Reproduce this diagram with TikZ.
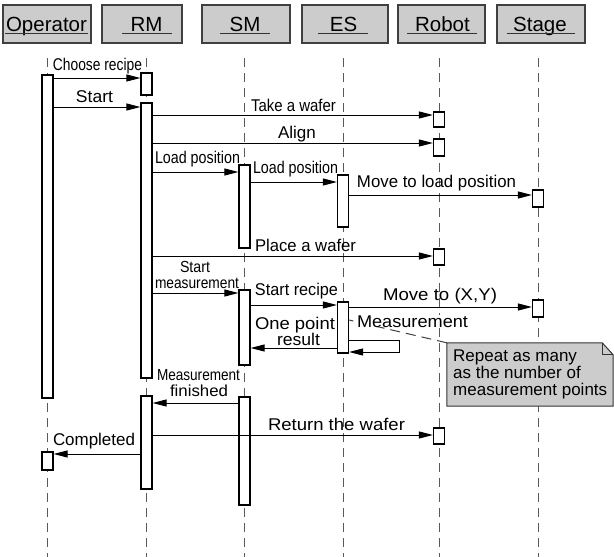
\documentclass[tikz,border=0pt]{standalone}
\usepackage{fontspec}
\setmainfont{Liberation Sans}
\usepackage{graphicx}
\usetikzlibrary{arrows.meta,calc}
\newcommand\fitw[2]{\resizebox{#1pt}{\height}{#2}}
\begin{document}
\begin{tikzpicture}[x=1pt,y=-1pt,
  hdr/.style={draw=black!75, line width=1.3pt, fill=black!20, inner sep=0pt, minimum height=38pt},
  htxt/.style={font=\fontsize{20.5}{22}\selectfont, inner sep=0pt, anchor=base},
  uline/.style={draw=black!80, line width=0.9pt},
  act/.style={draw=black, line width=1.2pt, fill=white, inner sep=0pt, minimum width=11pt},
  life/.style={draw=black!65, line width=1pt, dash pattern=on 9pt off 6pt},
  msg/.style={draw=black, line width=1pt, -{Triangle[length=14pt,width=7pt]}},
  lbl/.style={font=\fontsize{17}{17}\selectfont, inner sep=0pt, anchor=base},
  slbl/.style={font=\fontsize{16}{16}\selectfont, inner sep=0pt, anchor=base},
  notebox/.style={inner sep=0pt, minimum width=166pt, minimum height=63pt},
  notetxt/.style={font=\fontsize{17}{17}\selectfont, inner sep=0pt, align=left, anchor=north west},
  notelink/.style={draw=black!75, line width=1pt, dash pattern=on 10pt off 6pt},
]
\useasboundingbox (0,0) rectangle (614,557);

% header boxes
\node[hdr, minimum width=88pt] (bOp) at (47,24) {};
\node[hdr, minimum width=80pt] (bRM) at (142,24) {};
\node[hdr, minimum width=88pt] (bSM) at (246,24) {};
\node[hdr, minimum width=86pt] (bES) at (345,24) {};
\node[hdr, minimum width=87pt] (bRo) at (441.5,24) {};
\node[hdr, minimum width=88pt] (bSt) at (541,24) {};
\node[htxt] (tOp) at (46.5,31) {Operator};
\node[htxt] (tRM) at (146.5,31) {RM};
\node[htxt] (tSM) at (245,31) {SM};
\node[htxt] (tES) at (343.5,31) {ES};
\node[htxt] (tRo) at (442.5,31) {Robot};
\node[htxt] (tSt) at (540,31) {Stage};
\draw[uline] ($(tOp.base)+(-41.5,2)$) -- ++(83,0);
\draw[uline] ($(tRM.base)+(-24.5,2)$) -- ++(50,0);
\draw[uline] ($(tSM.base)+(-25,2)$) -- ++(50,0);
\draw[uline] ($(tES.base)+(-25.5,2)$) -- ++(50,0);
\draw[uline] ($(tRo.base)+(-35.5,2)$) -- ++(70,0);
\draw[uline] ($(tSt.base)+(-33,2)$) -- ++(68,0);

% lifelines
\coordinate (lOp) at (47.5,58);
\coordinate (lRM) at (146.5,58);
\coordinate (lSM) at (244.5,58);
\coordinate (lES) at (343,58);
\coordinate (lRo) at (439,58);
\coordinate (lSt) at (538,58);
\foreach \l in {lOp,lRM,lSM,lES,lRo,lSt}
  \draw[life] (\l) -- (\l |- 0,557);

% note and its link
\node[notebox] (nNote) at (530,374.5) {};
\draw[notelink] (nNote.north west) -- ($(lES)+(6,262)$);
\draw[draw=black!80, line width=1pt, fill=black!20]
  (nNote.north west) -- ([xshift=-11pt]nNote.north east) -- ([yshift=-12pt]nNote.north east)
  -- (nNote.south east) -- (nNote.south west) -- cycle;
\draw[draw=black!80, line width=1pt]
  ([xshift=-11pt]nNote.north east) -- ++(0,12) -- ([yshift=-12pt]nNote.north east);
\node[notetxt] (nNoteTxt) at (453,349.8) {Repeat as many\\as the number of\\measurement points};

% activations
\node[act, minimum height=323pt] (aOp1) at (47.5,236.5) {};
\node[act, minimum height=18pt]  (aOp2) at (47.5,461) {};
\node[act, minimum height=22pt]  (aRM1) at (146.5,84) {};
\node[act, minimum height=275pt] (aRM2) at (146.5,240.5) {};
\node[act, minimum height=93pt]  (aRM3) at (146.5,442.5) {};
\node[act, minimum height=83pt]  (aSM1) at (244.5,206.5) {};
\node[act, minimum height=75pt]  (aSM2) at (244.5,327.5) {};
\node[act, minimum height=108pt] (aSM3) at (244.5,451) {};
\node[act, minimum height=52pt]  (aES1) at (343,201) {};
\node[act, minimum height=51pt]  (aES2) at (343,327.5) {};
\node[act, minimum height=15pt]  (aRo1) at (439,119.5) {};
\node[act, minimum height=17pt]  (aRo2) at (439,147.5) {};
\node[act, minimum height=16pt]  (aRo3) at (439,257) {};
\node[act, minimum height=16pt]  (aRo4) at (439,436) {};
\node[act, minimum height=17pt]  (aSt1) at (538,198.5) {};
\node[act, minimum height=17pt]  (aSt2) at (538,308.5) {};

% messages
\draw[msg] (aOp1.east |- 0,78) -- (aRM1.west |- 0,78);
\draw[msg] (aOp1.east |- 0,107) -- (aRM2.west |- 0,107);
\draw[msg] (aRM2.east |- 0,115) -- (aRo1.west |- 0,115);
\draw[msg] (aRM2.east |- 0,143) -- (aRo2.west |- 0,143);
\draw[msg] (aRM2.east |- 0,172) -- (aSM1.west |- 0,172);
\draw[msg] (aSM1.east |- 0,182) -- (aES1.west |- 0,182);
\draw[msg] (aES1.east |- 0,195) -- (aSt1.west |- 0,195);
\draw[msg] (aRM2.east |- 0,256) -- (aRo3.west |- 0,256);
\draw[msg] (aRM2.east |- 0,293) -- (aSM2.west |- 0,293);
\draw[msg] (aSM2.east |- 0,305) -- (aES2.west |- 0,305);
\draw[msg] (aES2.east |- 0,307) -- (aSt2.west |- 0,307);
\draw[msg] (aES2.east |- 0,340) -- ++(50,0) -- ++(0,12) -- (aES2.east |- 0,352);
\draw[msg] (aES2.west |- 0,348) -- (aSM2.east |- 0,348);
\draw[msg] (aSM3.west |- 0,403) -- (aRM3.east |- 0,403);
\draw[msg] (aRM3.east |- 0,435) -- (aRo4.west |- 0,435);
\draw[msg] (aRM3.west |- 0,454) -- (aOp2.east |- 0,454);

% labels
\node[lbl] (m1) at (97.5,70) {\fitw{89}{Choose recipe}};
\node[lbl] (m2) at (94.5,102) {\fitw{37}{Start}};
\node[lbl] (m3) at (293.5,111) {\fitw{85}{Take a wafer}};
\node[lbl] (m4) at (297,138) {Align};
\node[lbl] (m5) at (197.5,163) {\fitw{85}{Load position}};
\node[lbl] (m6) at (295.5,173) {\fitw{85}{Load position}};
\node[lbl] (m7) at (436.5,187) {\fitw{159}{Move to load position}};
\node[lbl] (m8) at (305.5,251) {\fitw{101}{Place a wafer}};
\node[slbl] (m9a) at (195,272) {\fitw{30}{Start}};
\node[slbl] (m9b) at (197,288) {\fitw{84}{measurement}};
\node[lbl] (m10) at (296.5,295) {\fitw{83}{Start recipe}};
\node[lbl] (m11) at (440,300) {\fitw{114}{Move to (X,Y)}};
\node[lbl, fill=white] (m12) at (412.5,327) {\fitw{111}{Measurement}};
\node[lbl] (m13a) at (295,329) {\fitw{80}{One point}};
\node[lbl] (m13b) at (298.5,345) {\fitw{43}{result}};
\node[slbl] (m14a) at (198.5,380.5) {\fitw{83}{Measurement}};
\node[slbl] (m14b) at (199,396.5) {\fitw{58}{finished}};
\node[lbl] (m15) at (336.5,430) {\fitw{137}{Return the wafer}};
\node[lbl] (m16) at (94,445) {\fitw{82}{Completed}};
\end{tikzpicture}
\end{document}
